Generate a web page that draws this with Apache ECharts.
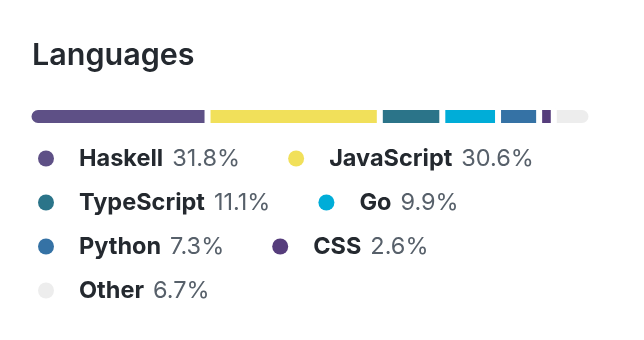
<!DOCTYPE html>
<html>
<head>
<meta charset="utf-8">
<script src="https://cdn.jsdelivr.net/npm/echarts@6/dist/echarts.min.js"></script>
<style>
  html, body { margin: 0; padding: 0; background: #ffffff; }
  #chart { width: 644px; height: 340px; }
</style>
</head>
<body>
<div id="chart"></div>
<script>
const titleText = 'Languages';
const languages = ['Haskell', 'JavaScript', 'TypeScript', 'Go', 'Python', 'CSS', 'Other'];
const percents = [31.8, 30.6, 11.1, 9.9, 7.3, 2.6, 6.7];
const colors = ['#5e5086', '#f1e05a', '#2b7489', '#00add8', '#3572a5', '#563d7c', '#ededed'];

const FONT = 'Inter, "Noto Sans", "DejaVu Sans", sans-serif';
const R = 9.5;

const series = languages.map((name, i) => {
  let radius = 0;
  if (i === 0) radius = [R, 0, 0, R];
  if (i === languages.length - 1) radius = [0, R, R, 0];
  return {
    name: name,
    type: 'bar',
    stack: 'total',
    barWidth: 19,
    data: [percents[i]],
    itemStyle: {
      color: colors[i],
      borderColor: '#ffffff',
      borderWidth: 3,
      borderRadius: radius
    },
    emphasis: { disabled: true },
    silent: true
  };
});

const chart = echarts.init(document.getElementById('chart'), null, { renderer: 'canvas' });
chart.setOption({
  animation: false,
  backgroundColor: '#ffffff',
  title: {
    text: titleText,
    left: 32,
    top: 40,
    padding: 0,
    textStyle: {
      fontFamily: FONT,
      fontSize: 30.5,
      fontWeight: 600,
      color: '#24292f'
    }
  },
  grid: { left: 28.5, right: 52.5, top: 107, height: 19, containLabel: false },
  xAxis: { type: 'value', min: 0, max: 100, show: false },
  yAxis: { type: 'category', data: ['languages'], show: false },
  legend: {
    data: languages,
    icon: 'circle',
    orient: 'horizontal',
    left: 38,
    top: 146.5,
    width: 576,
    padding: 0,
    itemWidth: 56,
    itemHeight: 16,
    itemGap: 20,
    selectedMode: false,
    itemStyle: { borderWidth: 0 },
    formatter: function (name) {
      const i = languages.indexOf(name);
      return '{n|' + name + '}{s| }{v|' + percents[i].toFixed(1) + '%}{p| }';
    },
    textStyle: {
      fontFamily: FONT,
      fontSize: 23.5,
      lineHeight: 24,
      rich: {
        n: { fontFamily: FONT, fontSize: 23.5, fontWeight: 700, color: '#24292f', lineHeight: 24 },
        s: { width: 9, lineHeight: 24 },
        v: { fontFamily: FONT, fontSize: 23.5, fontWeight: 400, color: '#57606a', lineHeight: 24 },
        p: { width: 28, lineHeight: 24 }
      }
    }
  },
  series: series
});
</script>
</body>
</html>
